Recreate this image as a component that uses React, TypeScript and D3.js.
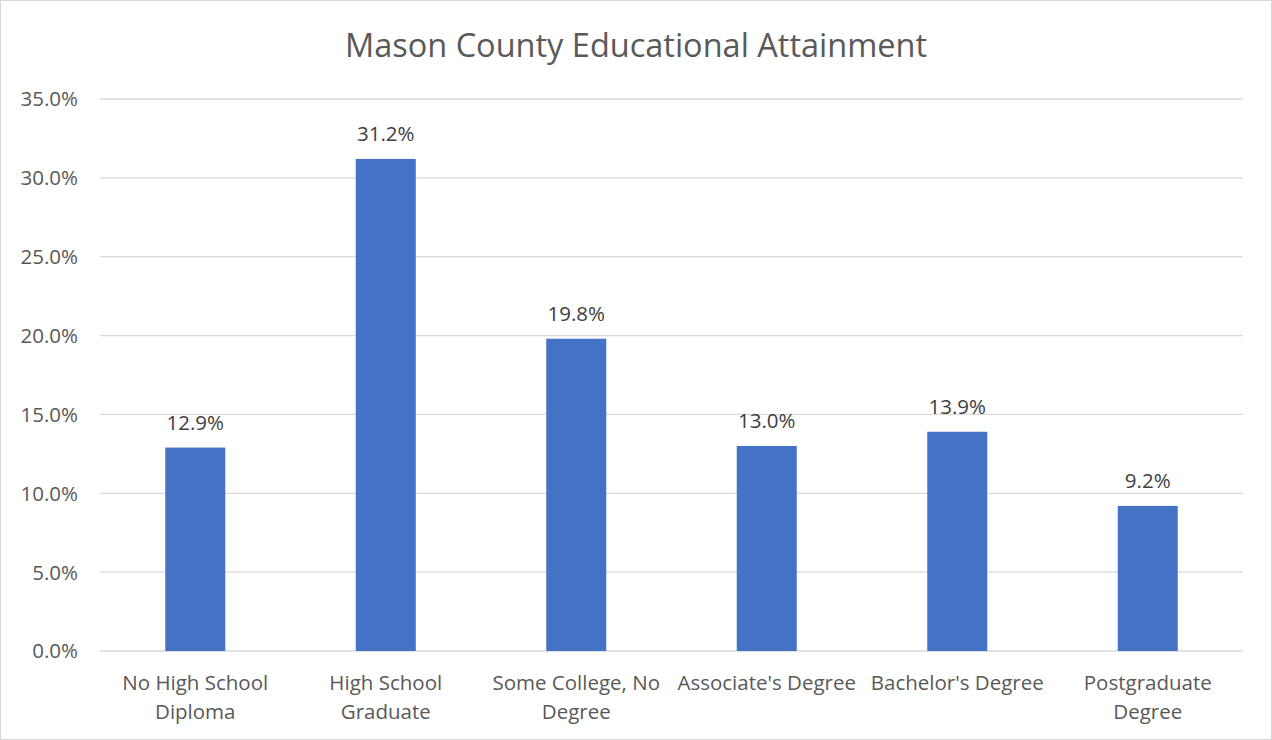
import React from "react";
import * as d3 from "d3";

const categories: string[][] = [
  ["No High School", "Diploma"],
  ["High School", "Graduate"],
  ["Some College, No", "Degree"],
  ["Associate's Degree"],
  ["Bachelor's Degree"],
  ["Postgraduate", "Degree"],
];
const values: number[] = [12.9, 31.2, 19.8, 13.0, 13.9, 9.2];
const yTicks: number[] = [0, 5, 10, 15, 20, 25, 30, 35];
const title = "Mason County Educational Attainment";

const W = 1272;
const H = 740;
const FONT = "'Open Sans', sans-serif";
const TEXT = "#595959";

export default function App() {
  const x = d3
    .scaleBand<number>()
    .domain(values.map((_, i) => i))
    .range([100, 1243])
    .paddingInner(0.685)
    .paddingOuter(0.3425);
  const y = d3.scaleLinear().domain([0, 35]).range([651, 99]);
  const step = x.step();

  return (
    <svg
      width={W}
      height={H}
      style={{ position: "absolute", left: 0, top: 0, background: "#fff" }}
    >
      <rect x={0.5} y={0.5} width={W - 1} height={H - 1} fill="#fff" stroke="#d9d9d9" />
      <text
        x={W / 2}
        y={57}
        textAnchor="middle"
        fontFamily={FONT}
        fontSize={32.5}
        fill={TEXT}
      >
        {title}
      </text>
      {yTicks.map((t) => (
        <g key={t}>
          <line x1={100} x2={1243} y1={y(t)} y2={y(t)} stroke="#d9d9d9" strokeWidth={1.3} />
          <text
            x={78}
            y={y(t)}
            dy="0.36em"
            textAnchor="end"
            fontFamily={FONT}
            fontSize={20.5}
            fill={TEXT}
          >
            {t.toFixed(1) + "%"}
          </text>
        </g>
      ))}
      {values.map((v, i) => (
        <g key={i}>
          <rect
            x={x(i)}
            y={y(v)}
            width={x.bandwidth()}
            height={y(0) - y(v)}
            fill="#4472C4"
          />
          <text
            x={(x(i) as number) + x.bandwidth() / 2}
            y={y(v) - 18}
            textAnchor="middle"
            fontFamily={FONT}
            fontSize={20.5}
            fill="#404040"
          >
            {v.toFixed(1) + "%"}
          </text>
          {categories[i].map((line, j) => (
            <text
              key={j}
              x={100 + step * i + step / 2}
              y={690 + j * 29}
              textAnchor="middle"
              fontFamily={FONT}
              fontSize={20.5}
              fill={TEXT}
            >
              {line}
            </text>
          ))}
        </g>
      ))}
    </svg>
  );
}
